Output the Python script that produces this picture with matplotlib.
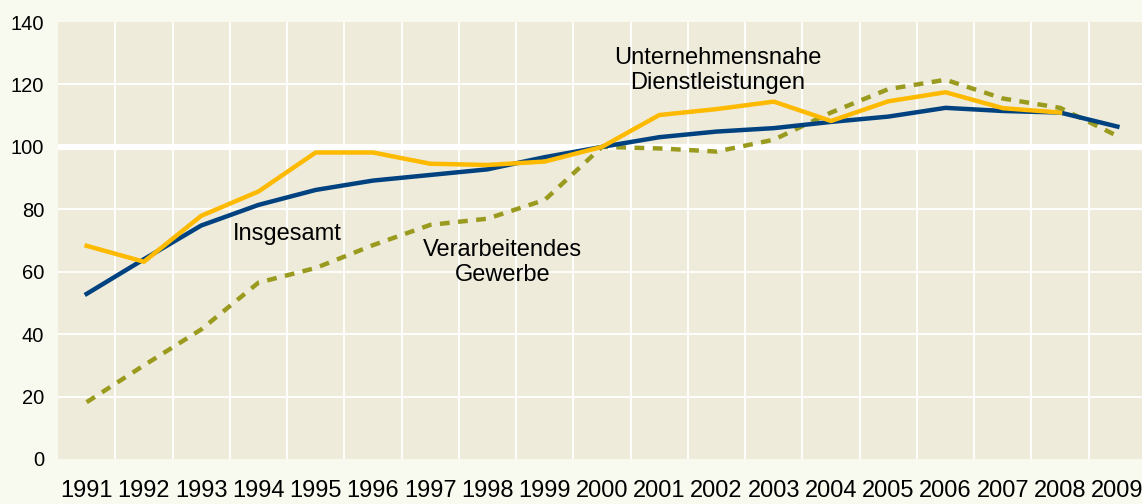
import matplotlib.pyplot as plt

plt.rcParams['font.family'] = ['Liberation Sans', 'DejaVu Sans']

jahre = [str(j) for j in range(1991, 2010)]
insgesamt = [52.9, 64.0, 74.8, 81.4, 86.2, 89.2, 91.0, 92.8, 96.7, 100.0,
             103.1, 104.9, 106.0, 108.0, 109.7, 112.5, 111.5, 111.0, 106.5]
dienstleistungen = [68.3, 63.2, 77.9, 85.7, 98.2, 98.2, 94.6, 94.2, 95.3, 100.0,
                    110.2, 112.1, 114.5, 108.3, 114.6, 117.5, 112.4, 111.0]
verarbeitend = [18.2, 30.0, 41.5, 56.5, 61.2, 68.5, 75.0, 77.0, 83.0, 100.0,
                99.5, 98.5, 102.3, 111.0, 118.5, 121.5, 115.5, 112.5, 103.5]
yticks = [0, 20, 40, 60, 80, 100, 120, 140]

bg = '#F9FAEF'
plotbg = '#EEEBDB'
navy = '#00427F'
gold = '#FDBA00'
olive = '#9A9B1E'

fig = plt.figure(figsize=(11.42, 5.04), dpi=100, facecolor=bg)
ax = fig.add_axes([0.0508, 0.0893, 0.9527, 0.867])
ax.set_facecolor(plotbg)

x = list(range(len(jahre)))
ax.set_xlim(-0.5, len(jahre) - 0.5)
ax.set_ylim(0, 140)

# Gitter
for b in range(1, len(jahre)):
    ax.axvline(b - 0.5, color='white', lw=1.3, zorder=1)
for t in yticks[1:-1]:
    ax.axhline(t, color='white', lw=4.5 if t == 100 else 1.3, zorder=1)

ax.plot(x[:len(verarbeitend)], verarbeitend, color=olive, lw=3.2,
        dashes=(2.2, 1.9), solid_capstyle='butt', dash_capstyle='butt', zorder=3)
ax.plot(x[:len(insgesamt)], insgesamt, color=navy, lw=3.2, zorder=4)
ax.plot(x[:len(dienstleistungen)], dienstleistungen, color=gold, lw=3.2, zorder=5)

ax.set_xticks(x)
ax.set_xticklabels(jahre, fontsize=17)
ax.set_yticks(yticks)
ax.set_yticklabels([str(t) for t in yticks], fontsize=14.5)
ax.tick_params(axis='x', length=0, pad=15)
ax.tick_params(axis='y', length=0, pad=10)
for s in ax.spines.values():
    s.set_visible(False)

ax.text(3.51, 72.1, 'Insgesamt', fontsize=17, ha='center', va='center', zorder=6)
ax.text(7.26, 63.0, 'Verarbeitendes\nGewerbe', fontsize=17, ha='center', va='center',
        linespacing=1.2, zorder=6)
ax.text(11.02, 124.5, 'Unternehmensnahe\nDienstleistungen', fontsize=17, ha='center',
        va='center', linespacing=1.2, zorder=6)

fig.savefig('out.png', dpi=100, facecolor=bg)
